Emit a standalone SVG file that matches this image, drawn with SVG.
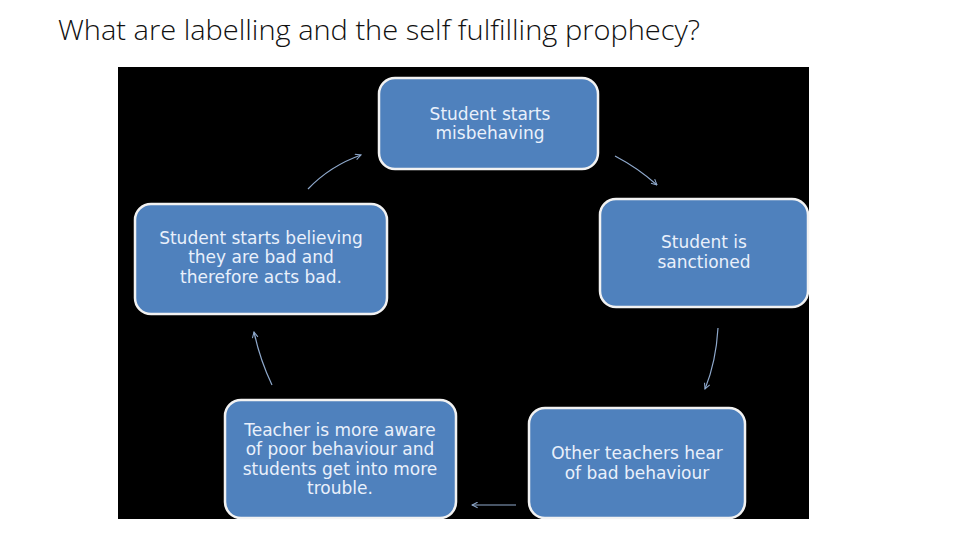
<svg xmlns="http://www.w3.org/2000/svg" width="960" height="540" viewBox="0 0 960 540">
<defs>
<style>
.node rect{fill:#4f81bd;stroke:#f2f2f2;stroke-width:2.5}
.node text{font-family:"DejaVu Sans",Verdana,sans-serif;font-size:17px;fill:#e9f0fb;text-anchor:middle}
.conn path{fill:none;stroke:#8fa9cc;stroke-width:1.2;marker-end:url(#ah)}
</style>
<marker id="ah" viewBox="0 0 10 10" refX="9" refY="5" markerWidth="7" markerHeight="7" orient="auto" markerUnits="userSpaceOnUse">
<path d="M1,1 L9,5 L1,9" fill="none" stroke="#8fa9cc" stroke-width="1.5"/>
</marker>
</defs>
<rect width="960" height="540" fill="#ffffff"/>
<text x="58" y="40" font-family="'Open Sans','Liberation Sans',sans-serif" font-weight="300" font-size="27" fill="#111" textLength="642" lengthAdjust="spacingAndGlyphs">What are labelling and the self fulfilling prophecy?</text>
<rect x="118" y="67" width="691" height="452" fill="#000000"/>
<g id="n1" class="node">
<rect x="379" y="78" width="219" height="91" rx="16"/>
<text x="490" y="120">Student starts</text>
<text x="490" y="139">misbehaving</text>
</g>
<g id="n2" class="node">
<rect x="600" y="199" width="208" height="108" rx="16"/>
<text x="704" y="248">Student is</text>
<text x="704" y="268">sanctioned</text>
</g>
<g id="n3" class="node">
<rect x="135" y="204" width="252" height="110" rx="16"/>
<text x="261" y="244">Student starts believing</text>
<text x="261" y="263">they are bad and</text>
<text x="261" y="283">therefore acts bad.</text>
</g>
<g id="n4" class="node">
<rect x="225" y="400" width="231" height="118" rx="16"/>
<text x="340" y="436">Teacher is more aware</text>
<text x="340" y="455">of poor behaviour and</text>
<text x="340" y="475">students get into more</text>
<text x="340" y="494">trouble.</text>
</g>
<g id="n5" class="node">
<rect x="529" y="408" width="216" height="110" rx="16"/>
<text x="637" y="459">Other teachers hear</text>
<text x="637" y="479">of bad behaviour</text>
</g>
<g id="connectors" class="conn">
<path d="M615,156 Q638,168 657,185"/>
<path d="M718,328 Q716,362 705,389"/>
<path d="M516,505 L472,505"/>
<path d="M272,385 Q260,360 254,332"/>
<path d="M308,189 Q330,166 361,155"/>
</g>
</svg>
